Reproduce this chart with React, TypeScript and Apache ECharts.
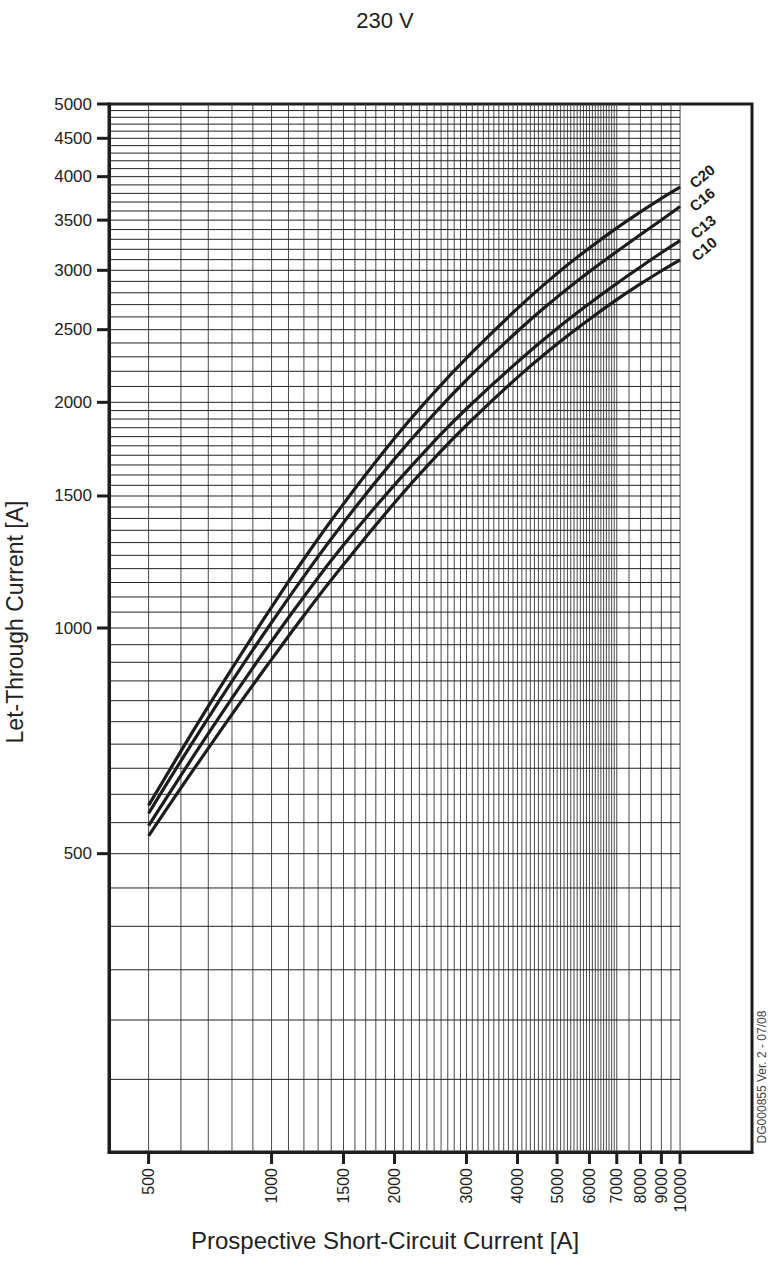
import React, { useEffect, useRef } from "react";
import * as echarts from "echarts";

// ---- data ----
const xValues = [500, 600, 700, 800, 900, 1000, 1200, 1500, 2000, 2500, 3000, 4000, 5000, 6000, 7000, 8000, 9000, 10000];
const c20 = [580, 685, 786, 883, 976, 1066, 1236, 1464, 1791, 2061, 2291, 2669, 2971, 3213, 3417, 3590, 3741, 3873];
const c16 = [566, 665, 759, 849, 935, 1017, 1172, 1382, 1681, 1930, 2142, 2488, 2763, 2988, 3178, 3348, 3501, 3650];
const c13 = [545, 636, 723, 806, 885, 960, 1101, 1290, 1552, 1774, 1961, 2264, 2509, 2709, 2881, 3031, 3166, 3286];
const c10 = [528, 612, 691, 767, 839, 908, 1039, 1215, 1469, 1683, 1864, 2159, 2392, 2582, 2742, 2877, 2995, 3098];
const curveNames = ["C20", "C16", "C13", "C10"];

const xTicks = [500, 1000, 1500, 2000, 3000, 4000, 5000, 6000, 7000, 8000, 9000, 10000];
const yTicks = [500, 1000, 1500, 2000, 2500, 3000, 3500, 4000, 4500, 5000];

const xGrid = [
  500, 600, 700, 800, 900, 1000, 1100, 1200, 1300, 1400, 1500, 1600, 1700, 1800, 1900, 2000,
  2100, 2200, 2300, 2400, 2500, 2600, 2700, 2800, 2900, 3000, 3100, 3200, 3300, 3400, 3500,
  3600, 3700, 3800, 3900, 4000, 4100, 4200, 4300, 4400, 4500, 4600, 4700, 4800, 4900, 5000,
  5100, 5200, 5300, 5400, 5500, 5600, 5700, 5800, 5900, 6000, 6100, 6200, 6300, 6400, 6500,
  6600, 6700, 6800, 6900, 7000, 7500, 8000, 8500, 9000, 9500, 10000,
];
const yGrid = [
  200, 250, 300, 350, 400, 450, 500, 550, 600, 650, 700, 750, 800, 850, 900, 950, 1000,
  1050, 1100, 1150, 1200, 1250, 1300, 1350, 1400, 1450, 1500, 1550, 1600, 1650, 1700, 1750,
  1800, 1850, 1900, 1950, 2000, 2100, 2200, 2300, 2400, 2500, 2600, 2700, 2800, 2900, 3000,
  3100, 3200, 3300, 3400, 3500, 3600, 3700, 3800, 3900, 4000, 4100, 4200, 4300, 4400, 4500,
  4600, 4700, 4800, 4900, 5000,
];

const X_MIN = 400;
const X_MAX = 15000;
const Y_MIN = 200;
const Y_MAX = 5000;
const GRID_X_END = 10000;

// styling
const FONT = "'Liberation Sans', Arial, Helvetica, sans-serif";
const INK = "#1c1c1c";
const labelOffsets: number[][] = [
  [22, -11],
  [22, -7],
  [23, -14],
  [24, -11],
];

export default function App() {
  const ref = useRef<HTMLDivElement>(null);

  useEffect(() => {
    if (!ref.current) return;
    const chart = echarts.init(ref.current, null, { renderer: "svg" });
    const curves = [c20, c16, c13, c10];

    const lineSeries = curves.map((vals, i) => ({
      name: curveNames[i],
      type: "line",
      data: xValues.map((x, j) => [x, vals[j]]),
      showSymbol: false,
      symbol: "none",
      smooth: 0.5,
      lineStyle: { color: INK, width: 3.2 },
      z: 5,
      silent: true,
    }));

    const option: any = {
      animation: false,
      backgroundColor: "#ffffff",
      grid: {
        left: 109,
        top: 104,
        right: 16,
        bottom: 128,
        show: true,
        borderColor: INK,
        borderWidth: 3,
        backgroundColor: "transparent",
      },
      xAxis: {
        type: "log",
        logBase: 10,
        min: X_MIN,
        max: X_MAX,
        axisLine: { show: true, lineStyle: { color: INK, width: 3 } },
        axisTick: { show: false },
        axisLabel: { show: false },
        splitLine: { show: false },
        minorTick: { show: false },
        minorSplitLine: { show: false },
      },
      yAxis: {
        type: "log",
        logBase: 10,
        min: Y_MIN,
        max: Y_MAX,
        axisLine: { show: true, lineStyle: { color: INK, width: 3 } },
        axisTick: { show: false },
        axisLabel: { show: false },
        splitLine: { show: false },
        minorTick: { show: false },
        minorSplitLine: { show: false },
      },
      graphic: [
        {
          type: "text",
          x: 385,
          y: 20,
          style: { text: "230 V", fontSize: 22, fontFamily: FONT, fill: "#222", align: "center", verticalAlign: "middle" },
        },
        {
          type: "text",
          x: 385,
          y: 1240,
          style: {
            text: "Prospective Short-Circuit Current [A]",
            fontSize: 24,
            fontFamily: FONT,
            fill: "#222",
            align: "center",
            verticalAlign: "middle",
          },
        },
        {
          type: "text",
          x: 15,
          y: 622,
          rotation: Math.PI / 2,
          style: {
            text: "Let-Through Current [A]",
            fontSize: 23,
            fontFamily: FONT,
            fill: "#222",
            align: "center",
            verticalAlign: "middle",
          },
        },
        {
          type: "text",
          x: 762,
          y: 1077,
          rotation: Math.PI / 2,
          style: {
            text: "DG000855 Ver. 2 - 07/08",
            fontSize: 12,
            fontFamily: FONT,
            fill: "#444",
            align: "center",
            verticalAlign: "middle",
          },
        },
      ],
      series: [
        // vertical grid lines
        {
          type: "custom",
          silent: true,
          z: 1,
          data: xGrid.map((v) => [v, Y_MIN]),
          encode: { x: 0, y: 1 },
          renderItem: (params: any, api: any) => {
            const v = api.value(0);
            const p1 = api.coord([v, Y_MIN]);
            const p2 = api.coord([v, Y_MAX]);
            return {
              type: "line",
              shape: { x1: p1[0], y1: p1[1], x2: p2[0], y2: p2[1] },
              style: { stroke: "#4a4a4a", lineWidth: 1 },
            };
          },
        },
        // horizontal grid lines
        {
          type: "custom",
          silent: true,
          z: 1,
          data: yGrid.map((v) => [X_MIN, v]),
          encode: { x: 0, y: 1 },
          renderItem: (params: any, api: any) => {
            const v = api.value(1);
            const p1 = api.coord([X_MIN, v]);
            const p2 = api.coord([GRID_X_END, v]);
            return {
              type: "line",
              shape: { x1: p1[0], y1: p1[1], x2: p2[0], y2: p2[1] },
              style: { stroke: "#222", lineWidth: 1 },
            };
          },
        },
        // x ticks + labels
        {
          type: "custom",
          silent: true,
          z: 6,
          clip: false,
          data: xTicks.map((v) => [v, Y_MIN]),
          encode: { x: 0, y: 1 },
          renderItem: (params: any, api: any) => {
            const v = api.value(0);
            const p = api.coord([v, Y_MIN]);
            return {
              type: "group",
              children: [
                {
                  type: "line",
                  shape: { x1: p[0], y1: p[1], x2: p[0], y2: p[1] + 12 },
                  style: { stroke: INK, lineWidth: 3 },
                },
                {
                  type: "text",
                  x: p[0],
                  y: p[1] + 16,
                  rotation: Math.PI / 2,
                  style: {
                    text: String(xTicks[params.dataIndex]),
                    fontSize: 16,
                    fontFamily: FONT,
                    fill: "#222",
                    align: "right",
                    verticalAlign: "middle",
                  },
                },
              ],
            };
          },
        },
        // y ticks + labels
        {
          type: "custom",
          silent: true,
          z: 6,
          clip: false,
          data: yTicks.map((v) => [X_MIN, v]),
          encode: { x: 0, y: 1 },
          renderItem: (params: any, api: any) => {
            const v = api.value(1);
            const p = api.coord([X_MIN, v]);
            return {
              type: "group",
              children: [
                {
                  type: "line",
                  shape: { x1: p[0], y1: p[1], x2: p[0] - 12, y2: p[1] },
                  style: { stroke: INK, lineWidth: 3 },
                },
                {
                  type: "text",
                  x: p[0] - 17,
                  y: p[1],
                  style: {
                    text: String(yTicks[params.dataIndex]),
                    fontSize: 17,
                    fontFamily: FONT,
                    fill: "#222",
                    align: "right",
                    verticalAlign: "middle",
                  },
                },
              ],
            };
          },
        },
        ...lineSeries,
        // curve end labels
        {
          type: "custom",
          silent: true,
          z: 7,
          clip: false,
          data: curves.map((vals) => [xValues[xValues.length - 1], vals[vals.length - 1]]),
          encode: { x: 0, y: 1 },
          renderItem: (params: any, api: any) => {
            const i = params.dataIndex;
            const p = api.coord([api.value(0), api.value(1)]);
            const off = labelOffsets[i];
            return {
              type: "text",
              x: p[0] + off[0],
              y: p[1] + off[1],
              rotation: (40 * Math.PI) / 180,
              style: {
                text: curveNames[i],
                fontSize: 15,
                fontWeight: "bold",
                fontFamily: FONT,
                fill: INK,
                align: "center",
                verticalAlign: "middle",
              },
            };
          },
        },
      ],
    };

    chart.setOption(option);
    return () => {
      chart.dispose();
    };
  }, []);

  return (
    <div
      ref={ref}
      style={{ position: "absolute", left: 0, top: 0, width: 768, height: 1280, background: "#fff" }}
    />
  );
}
